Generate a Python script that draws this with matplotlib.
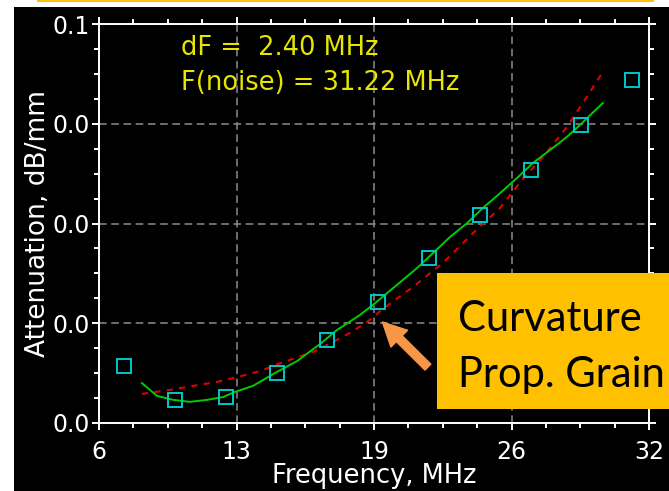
import matplotlib
matplotlib.use("Agg")
import matplotlib.pyplot as plt
from matplotlib.patches import Rectangle
from matplotlib.lines import Line2D

# measured attenuation points (one every dF = 2.4 MHz)
freq = [7.2, 9.6, 12.0, 14.4, 16.8, 19.2, 21.6, 24.0, 26.4, 28.8, 31.2]
atten = [0.0144, 0.0058, 0.0065, 0.0125, 0.0208, 0.0303, 0.0414, 0.0521, 0.0634, 0.0747, 0.0860]

# polynomial fit (green)
fit_f = [8.03, 8.74, 9.50, 10.30, 11.11, 11.86, 12.43, 13.28, 14.41, 15.36, 16.45,
         17.25, 18.34, 18.95, 21.03, 21.79, 22.59, 23.40, 24.15, 24.96, 25.76,
         26.52, 27.32, 28.12, 28.74, 29.82]
fit_a = [0.0100, 0.0068, 0.0058, 0.0053, 0.0058, 0.0065, 0.0078, 0.0093, 0.0128,
         0.0155, 0.0198, 0.0233, 0.0271, 0.0296, 0.0388, 0.0426, 0.0466, 0.0501,
         0.0539, 0.0576, 0.0614, 0.0652, 0.0684, 0.0717, 0.0747, 0.0802]

# power-law fit (red dashed)
pow_f = [8.03, 9.36, 10.44, 11.58, 12.52, 13.61, 14.56, 16.12, 17.06, 17.87, 18.67,
         19.42, 20.84, 22.26, 23.68, 24.96, 26.04, 26.99, 28.12, 28.97, 29.82]
pow_a = [0.0073, 0.0083, 0.0093, 0.0103, 0.0115, 0.0130, 0.0150, 0.0178, 0.0203,
         0.0226, 0.0253, 0.0286, 0.0341, 0.0401, 0.0476, 0.0539, 0.0612, 0.0667,
         0.0742, 0.0810, 0.0880]

xticks = [6, 12.5, 19, 25.5, 32]
xticklabels = ["6", "13", "19", "26", "32"]
yticks = [0, 0.025, 0.05, 0.075, 0.1]
yticklabels = ["0.0", "0.0", "0.0", "0.0", "0.1"]

W, H = 669, 491
fig = plt.figure(figsize=(W / 100, H / 100), dpi=100, facecolor="white")

# black panel and gold rule on top
fig.add_artist(Rectangle((14 / W, 0), 1, 1 - 7 / H, transform=fig.transFigure,
                         facecolor="black", edgecolor="none", zorder=0))
fig.add_artist(Line2D([38 / W, 653 / W], [1 - 1 / H, 1 - 1 / H], transform=fig.transFigure,
                      color="#FFC000", lw=1.4, zorder=1))

ax = fig.add_axes([99 / W, 1 - 423 / H, 550 / W, 399 / H])
ax.set_facecolor("black")
ax.set_xlim(6, 32)
ax.set_ylim(0, 0.1)

ax.plot(pow_f, pow_a, color="#DD0000", lw=1.5, dashes=(3, 3), zorder=3)
ax.plot(fit_f, fit_a, color="#00CC00", lw=1.4, zorder=4)
ax.plot(freq, atten, ls="none", marker="s", ms=9.5, mfc="none", mec="#00C8C8", mew=1.4,
        zorder=5, clip_on=False)

for s in ax.spines.values():
    s.set_color("white")
    s.set_linewidth(1.4)

ax.set_xticks(xticks)
ax.set_xticklabels(xticklabels)
ax.set_yticks(yticks)
ax.set_yticklabels(yticklabels)
ax.set_xticks([6 + 1.625 * i for i in range(17) if i % 4], minor=True)
ax.set_yticks([0.00625 * i for i in range(17) if i % 4], minor=True)
ax.tick_params(which="both", direction="out", top=True, right=True, colors="white",
               width=1.4, labelsize=17)
ax.tick_params(which="major", length=5)
ax.tick_params(which="minor", length=3.5)
ax.tick_params(axis="x", pad=7)
ax.tick_params(axis="y", pad=1.5)
ax.grid(True, color="#8C8C8C", lw=1.1, dashes=(5, 3))
ax.set_axisbelow(True)

ax.set_xlabel("Frequency, MHz", color="white", fontsize=18.5)
ax.xaxis.set_label_coords(0.5, -0.1)
ax.set_ylabel("Attenuation, dB/mm", color="white", fontsize=19)
ax.yaxis.set_label_coords(-0.088, 0.5)

ax.text(0.149, 0.922, "dF =  2.40 MHz", transform=ax.transAxes, color="#E6E600",
        fontsize=18.5, va="baseline")
ax.text(0.149, 0.835, "F(noise) = 31.22 MHz", transform=ax.transAxes, color="#E6E600",
        fontsize=18.5, va="baseline")

# callout box with arrow
fig.add_artist(Rectangle((437 / W, 1 - 409 / H), 1, 136 / H, transform=fig.transFigure,
                         facecolor="#FFC000", edgecolor="none", zorder=6))
fig.text(458 / W, 1 - 331 / H, "Curvature", family="Lato", fontsize=30, color="black",
         va="baseline", zorder=7)
fig.text(458 / W, 1 - 387 / H, "Prop. Grain", family="Lato", fontsize=30, color="black",
         va="baseline", zorder=7)
ax.annotate("", xy=(19.4, 0.0253), xytext=(21.55, 0.014), annotation_clip=False,
            arrowprops=dict(arrowstyle="simple,head_length=0.85,head_width=0.85,tail_width=0.3",
                            mutation_scale=20, color="#F79646", shrinkA=0, shrinkB=0),
            zorder=7)

fig.savefig("out.png", dpi=100, facecolor="white")
